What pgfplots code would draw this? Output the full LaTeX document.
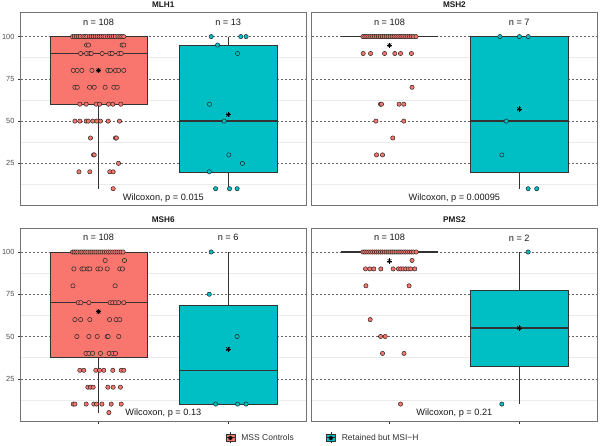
\documentclass[border=0pt]{standalone}
\usepackage{fontspec}
\setmainfont{Liberation Sans}
\usepackage{pgfplots}
\pgfplotsset{compat=1.18}
\definecolor{mssred}{HTML}{F8766D}
\definecolor{msiteal}{HTML}{00BFC4}
\definecolor{gtwenty}{HTML}{333333}
\definecolor{gthirty}{HTML}{4D4D4D}
\definecolor{gridmin}{HTML}{EBEBEB}
\pgfplotsset{
 panel/.style={scale only axis, width=285.3pt, height=193pt,
   xmin=0.4, xmax=2.6, ymin=0, ymax=114.2,
   axis line style={draw=black!55, line width=0.7pt},
   ytick={25,50,75,100}, minor ytick={12.5,37.5,62.5,87.5},
   ymajorgrids, yminorgrids,
   major grid style={dash pattern=on 2pt off 2pt, draw=black!60, line width=0.5pt},
   minor grid style={draw=gridmin, line width=0.5pt},
   tick align=outside, major tick length=2.75pt, minor tick length=0pt,
   tick style={draw=gtwenty, line width=0.5pt},
   xtick pos=bottom, ytick pos=left,
   xticklabels={},
   ticklabel style={font=\fontsize{7.4}{8}\selectfont, text=gthirty},
   /pgf/number format/assume math mode=true,
   clip=false, anchor=south west},
 toppanel/.style={xtick=\empty},
 botpanel/.style={xtick={1,2}},
 rightpanel/.style={yticklabels={}, y tick style={draw=none}},
 redpts/.style={only marks, mark=*, mark size=2.15pt, mark options={fill=mssred, draw=black!85, line width=0.5pt}},
 tealpts/.style={only marks, mark=*, mark size=2.15pt, mark options={fill=msiteal, draw=black!85, line width=0.5pt}},
 meanp/.style={only marks, mark=+, mark size=2.6pt, mark options={draw=black, line width=0.6pt}},
 meanx/.style={only marks, mark=x, mark size=2.6pt, mark options={draw=black, line width=0.6pt}},
}
% box: color, left, centre, right, lower whisker, lower quartile, median, upper quartile, upper whisker
\newcommand{\bx}[9]{%
\addplot[draw=gtwenty, line width=0.5pt] coordinates {(#3,#5) (#3,#6)};
\addplot[draw=gtwenty, line width=0.5pt] coordinates {(#3,#8) (#3,#9)};
\addplot[draw=gtwenty, fill=#1, line width=0.5pt] coordinates {(#2,#6) (#4,#6) (#4,#8) (#2,#8)} -- cycle;
\addplot[draw=gtwenty, line width=1.5pt] coordinates {(#2,#7) (#4,#7)};
}
\newcommand{\nlab}[2]{\node[font=\fontsize{9.2}{10}\selectfont, text=black!90] at (axis cs:#1,108.4) {#2};}
\newcommand{\wlab}[1]{\node[font=\fontsize{9.2}{10}\selectfont, text=black!90] at (axis cs:1.5,4.5) {#1};}
\begin{document}
\begin{tikzpicture}
\path[use as bounding box] (0,0) rectangle (600pt,445pt);
% ---------------- MLH1 ----------------
\begin{axis}[panel, toppanel, at={(20.7pt,239.4pt)}]
\bx{mssred}{0.625}{1}{1.375}{10}{60}{90}{100}{100}
\bx{msiteal}{1.625}{2}{2.375}{10}{20}{50}{95}{100}
\addplot[redpts] coordinates {
(0.800,100) (0.815,100) (0.830,100) (0.845,100) (0.860,100) (0.880,100) (0.895,100) (0.910,100) (0.930,100) (0.945,100) (0.960,100) (0.975,100) (0.990,100) (1.005,100) (1.020,100) (1.035,100) (1.050,100) (1.070,100) (1.085,100) (1.100,100) (1.115,100) (1.130,100) (1.150,100) (1.165,100) (1.180,100) (1.195,100)
(0.908,95) (0.923,95) (1.182,95) (1.195,95)
(0.862,90) (0.908,90) (0.933,90) (0.944,90) (1.028,90) (1.087,90) (1.105,90) (1.156,90) (1.175,90)
(0.805,80) (0.836,80) (0.872,80) (0.949,80) (1.072,80) (1.092,80) (1.131,80) (1.156,80) (1.195,80)
(0.818,70) (0.836,70) (0.931,70) (0.967,70) (1.051,70) (1.118,70) (1.144,70)
(0.856,60) (0.905,60) (0.982,60) (1.008,60) (1.077,60) (1.110,60) (1.172,60)
(0.818,50) (0.856,50) (0.905,50) (0.921,50) (0.956,50) (0.987,50) (1.015,50) (1.075,50) (1.162,50)
(0.938,40) (1.131,40) (1.138,40)
(0.962,30) (0.967,30) (1.154,25)
(0.849,20) (0.933,20) (1.087,20) (1.113,20)
(1.113,10)
};
\addplot[tealpts] coordinates {
(1.869,100) (2.097,100) (2.138,100) (1.918,95) (2.072,90) (1.856,60) (1.969,50) (2.005,30) (2.110,25) (1.854,20) (1.903,10) (2.010,10) (2.069,10)
};
\addplot[meanp] coordinates {(1,80) (2,53.8)};
\addplot[meanx] coordinates {(1,80) (2,53.8)};
\nlab{1}{n = 108}\nlab{2}{n = 13}
\wlab{Wilcoxon, p = 0.015}
\end{axis}
% ---------------- MSH2 ----------------
\begin{axis}[panel, toppanel, rightpanel, at={(311.7pt,239.4pt)}]
\bx{mssred}{0.625}{1}{1.375}{100}{100}{100}{100}{100}
\bx{msiteal}{1.625}{2}{2.375}{10}{20}{50}{100}{100}
\addplot[redpts] coordinates {
(0.795,100) (0.810,100) (0.825,100) (0.840,100) (0.855,100) (0.870,100) (0.885,100) (0.900,100) (0.915,100) (0.930,100) (0.945,100) (0.960,100) (0.975,100) (0.990,100) (1.005,100) (1.020,100) (1.035,100) (1.050,100) (1.065,100) (1.080,100) (1.095,100) (1.110,100) (1.125,100) (1.140,100) (1.155,100) (1.170,100) (1.185,100) (1.205,100)
(0.797,90) (0.854,90) (0.962,90) (1.041,90) (1.085,90) (1.169,90)
(1.174,70)
(0.931,60) (0.938,60) (1.074,60) (1.110,60)
(0.895,50) (1.110,50)
(1.025,40)
(0.900,30) (0.946,30)
};
\addplot[tealpts] coordinates {
(1.851,100) (2.002,100) (2.069,100) (1.900,50) (1.866,30) (2.069,10) (2.135,10)
};
\addplot[meanp] coordinates {(1,94.9) (2,57.1)};
\addplot[meanx] coordinates {(1,94.9) (2,57.1)};
\nlab{1}{n = 108}\nlab{2}{n = 7}
\wlab{Wilcoxon, p = 0.00095}
\end{axis}
% ---------------- MSH6 ----------------
\begin{axis}[panel, botpanel, at={(20.7pt,24pt)}]
\bx{mssred}{0.625}{1}{1.375}{5}{37.5}{70}{100}{100}
\bx{msiteal}{1.625}{2}{2.375}{10}{10}{30}{68.75}{100}
\addplot[redpts] coordinates {
(0.800,100) (0.812,100) (0.826,100) (0.840,100) (0.858,100) (0.872,100) (0.888,100) (0.902,100) (0.918,100) (0.935,100) (0.950,100) (0.965,100) (0.980,100) (0.996,100) (1.012,100) (1.028,100) (1.045,100) (1.062,100) (1.078,100) (1.094,100) (1.110,100) (1.126,100) (1.142,100) (1.158,100) (1.174,100) (1.190,100)
(1.051,95) (1.200,95)
(0.810,90) (0.872,90) (0.887,90) (0.918,90) (0.933,90) (0.995,90) (1.015,90) (1.067,90) (1.164,90) (1.185,90)
(0.803,80) (1.128,80)
(0.844,70) (0.864,70) (0.926,70) (1.090,70) (1.110,70) (1.131,70) (1.156,70) (1.195,70)
(0.818,60) (0.862,60) (0.933,60) (1.085,60) (1.136,60) (1.164,60)
(0.833,50) (0.926,50) (0.990,50) (1.067,50) (1.074,50) (1.156,50)
(0.903,40) (0.926,40) (0.954,40) (1.015,40) (1.082,40) (1.110,40) (1.131,40)
(0.856,30) (0.887,30) (0.979,30) (1.008,30) (1.041,30) (1.110,30) (1.175,30) (1.195,30)
(0.918,20) (0.938,20) (0.959,20) (1.072,20) (1.113,20) (1.169,20)
(0.805,10) (0.818,10) (0.905,10) (0.964,10) (0.985,10) (1.026,10) (1.098,10) (1.175,10)
(1.080,5)
};
\addplot[tealpts] coordinates {
(1.869,100) (1.854,75) (2.069,50) (1.903,10) (2.072,10) (2.138,10)
};
\addplot[meanp] coordinates {(1,64.7) (2,42.5)};
\addplot[meanx] coordinates {(1,64.7) (2,42.5)};
\nlab{1}{n = 108}\nlab{2}{n = 6}
\wlab{Wilcoxon, p = 0.13}
\end{axis}
% ---------------- PMS2 ----------------
\begin{axis}[panel, botpanel, rightpanel, at={(311.7pt,24pt)}]
\bx{mssred}{0.625}{1}{1.375}{100}{100}{100}{100}{100}
\bx{msiteal}{1.625}{2}{2.375}{10}{32.5}{55}{77.5}{100}
\addplot[redpts] coordinates {
(0.795,100) (0.810,100) (0.825,100) (0.840,100) (0.855,100) (0.870,100) (0.885,100) (0.900,100) (0.915,100) (0.930,100) (0.945,100) (0.960,100) (0.975,100) (0.990,100) (1.005,100) (1.020,100) (1.035,100) (1.050,100) (1.065,100) (1.080,100) (1.095,100) (1.110,100) (1.125,100) (1.140,100) (1.155,100) (1.170,100) (1.185,100) (1.205,100)
(1.174,95)
(0.815,90) (0.848,90) (0.879,90) (0.933,90) (1.028,90) (1.069,90) (1.087,90) (1.105,90) (1.125,90) (1.144,90) (1.164,90) (1.195,90)
(0.818,80) (1.151,80)
(0.851,60)
(0.931,50) (0.967,50)
(0.946,40) (1.112,40)
(1.085,10)
};
\addplot[tealpts] coordinates {(2.069,100) (1.866,10)};
\addplot[meanp] coordinates {(1,94.7) (2,55)};
\addplot[meanx] coordinates {(1,94.7) (2,55)};
\nlab{1}{n = 108}\nlab{2}{n = 2}
\wlab{Wilcoxon, p = 0.21}
\end{axis}
% ---------------- strip titles ----------------
\node[font=\bfseries\fontsize{8.2}{9}\selectfont, text=black!90] at (163.3pt,440.6pt) {MLH1};
\node[font=\bfseries\fontsize{8.2}{9}\selectfont, text=black!90] at (454.4pt,440.6pt) {MSH2};
\node[font=\bfseries\fontsize{8.2}{9}\selectfont, text=black!90] at (163.3pt,225pt) {MSH6};
\node[font=\bfseries\fontsize{8.2}{9}\selectfont, text=black!90] at (454.4pt,225pt) {PMS2};
% ---------------- legend ----------------
\begin{axis}[hide axis, scale only axis, width=285.3pt, height=193pt, at={(20.7pt,24pt)}, anchor=south west,
  xmin=0, xmax=1, ymin=0, ymax=1,
  legend columns=2,
  legend style={at={(1.0596,-0.088)}, anchor=center, draw=none, fill=none, inner sep=0pt,
    font=\fontsize{8.5}{9}\selectfont, text=gtwenty,
    /tikz/every odd column/.append style={column sep=4pt},
    /tikz/every even column/.append style={column sep=30pt}}]
\addlegendimage{legend image code/.code={
   \draw[gtwenty, line width=0.5pt] (5pt,-5.5pt) -- (5pt,5.5pt);
   \draw[fill=mssred, draw=gtwenty, line width=0.5pt] (0.5pt,-3.6pt) rectangle (9.5pt,3.6pt);
   \draw[gtwenty, line width=1pt] (0.5pt,0pt) -- (9.5pt,0pt);
   \draw[fill=mssred, draw=black, line width=0.45pt] (5pt,0pt) circle (1.9pt);
   \draw[black, line width=0.5pt] (2.8pt,0pt) -- (7.2pt,0pt) (5pt,-2.2pt) -- (5pt,2.2pt) (3.5pt,-1.5pt) -- (6.5pt,1.5pt) (3.5pt,1.5pt) -- (6.5pt,-1.5pt);
}}
\addlegendentry{MSS Controls}
\addlegendimage{legend image code/.code={
   \draw[gtwenty, line width=0.5pt] (5pt,-5.5pt) -- (5pt,5.5pt);
   \draw[fill=msiteal, draw=gtwenty, line width=0.5pt] (0.5pt,-3.6pt) rectangle (9.5pt,3.6pt);
   \draw[gtwenty, line width=1pt] (0.5pt,0pt) -- (9.5pt,0pt);
   \draw[fill=msiteal, draw=black, line width=0.45pt] (5pt,0pt) circle (1.9pt);
   \draw[black, line width=0.5pt] (2.8pt,0pt) -- (7.2pt,0pt) (5pt,-2.2pt) -- (5pt,2.2pt) (3.5pt,-1.5pt) -- (6.5pt,1.5pt) (3.5pt,1.5pt) -- (6.5pt,-1.5pt);
}}
\addlegendentry{Retained but MSI−H}
\end{axis}
\end{tikzpicture}
\end{document}
